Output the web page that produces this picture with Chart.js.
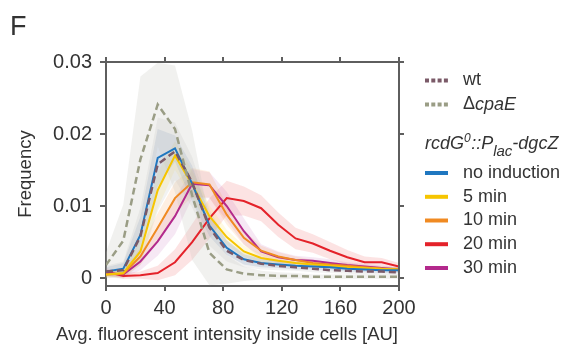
<!DOCTYPE html>
<html lang="en">
<head>
<meta charset="UTF-8">
<title>Frequency vs. fluorescent intensity</title>
<script src="https://cdn.jsdelivr.net/npm/chart.js"></script>
<style>
  html, body { margin: 0; padding: 0; background: #fff; }
  #chart { display: block; }
</style>
</head>
<body>
<canvas id="chart" width="570" height="351"></canvas>
<script>
// intensity bins (AU)
const intensity = [0, 11.8, 23.5, 35.3, 47.1, 58.8, 70.6, 82.4, 94.1, 105.9, 117.6, 129.4, 141.2, 152.9, 164.7, 176.5, 188.2, 200];

// mean frequency per bin
const wt          = [0.0009, 0.0011, 0.0058, 0.0158, 0.0176, 0.0133, 0.0070, 0.0038, 0.0025, 0.0020, 0.0017, 0.0015, 0.0013, 0.0011, 0.0010, 0.0009, 0.0009, 0.0008];
const cpaE        = [0.0018, 0.0052, 0.0165, 0.0241, 0.0207, 0.0115, 0.0035, 0.0012, 0.0006, 0.0004, 0.0003, 0.0003, 0.0002, 0.0002, 0.0002, 0.0002, 0.0002, 0.0002];
const noInduction = [0.0009, 0.0013, 0.0060, 0.0167, 0.0180, 0.0131, 0.0073, 0.0042, 0.0026, 0.0021, 0.0019, 0.0017, 0.0016, 0.0015, 0.0013, 0.0012, 0.0011, 0.0011];
const min5        = [0.0005, 0.0007, 0.0037, 0.0122, 0.0170, 0.0130, 0.0086, 0.0057, 0.0037, 0.0028, 0.0024, 0.0021, 0.0019, 0.0017, 0.0015, 0.0014, 0.0013, 0.0012];
const min10       = [0.0005, 0.0006, 0.0030, 0.0070, 0.0111, 0.0133, 0.0130, 0.0088, 0.0056, 0.0038, 0.0030, 0.0025, 0.0021, 0.0019, 0.0017, 0.0015, 0.0013, 0.0012];
const min20       = [0.0009, 0.0003, 0.0004, 0.0007, 0.0022, 0.0050, 0.0083, 0.0111, 0.0107, 0.0097, 0.0074, 0.0055, 0.0048, 0.0038, 0.0029, 0.0022, 0.0022, 0.0016];
const min30       = [0.0007, 0.0005, 0.0023, 0.0051, 0.0086, 0.0131, 0.0129, 0.0100, 0.0065, 0.0037, 0.0029, 0.0025, 0.0024, 0.0021, 0.0018, 0.0016, 0.0014, 0.0012];

// spread (shaded band = mean +/- sd)
const wtSd          = [0.0008, 0.0012, 0.0040, 0.0065, 0.0040, 0.0035, 0.0025, 0.0015, 0.0010, 0.0008, 0.0006, 0.0005, 0.0005, 0.0004, 0.0004, 0.0004, 0.0004, 0.0004];
const cpaESd        = [0.0018, 0.0050, 0.0115, 0.0058, 0.0088, 0.0090, 0.0045, 0.0020, 0.0010, 0.0006, 0.0005, 0.0004, 0.0003, 0.0003, 0.0003, 0.0003, 0.0003, 0.0003];
const noInductionSd = [0.0006, 0.0008, 0.0025, 0.0040, 0.0018, 0.0025, 0.0015, 0.0010, 0.0007, 0.0006, 0.0005, 0.0005, 0.0004, 0.0004, 0.0004, 0.0004, 0.0004, 0.0004];
const min5Sd        = [0.0004, 0.0005, 0.0015, 0.0025, 0.0020, 0.0020, 0.0015, 0.0010, 0.0008, 0.0006, 0.0005, 0.0004, 0.0004, 0.0004, 0.0003, 0.0003, 0.0003, 0.0003];
const min10Sd       = [0.0004, 0.0005, 0.0012, 0.0020, 0.0022, 0.0020, 0.0018, 0.0014, 0.0010, 0.0007, 0.0006, 0.0005, 0.0004, 0.0004, 0.0004, 0.0003, 0.0003, 0.0003];
const min20Sd       = [0.0005, 0.0004, 0.0005, 0.0010, 0.0018, 0.0025, 0.0028, 0.0024, 0.0020, 0.0018, 0.0017, 0.0015, 0.0013, 0.0012, 0.0010, 0.0008, 0.0006, 0.0005];
const min30Sd       = [0.0004, 0.0004, 0.0012, 0.0020, 0.0025, 0.0020, 0.0018, 0.0020, 0.0018, 0.0010, 0.0008, 0.0006, 0.0005, 0.0005, 0.0004, 0.0004, 0.0003, 0.0003];

const xTicks = [0, 40, 80, 120, 160, 200];
const yTicks = [0, 0.01, 0.02, 0.03];
const yTickLabels = ['0', '0.01', '0.02', '0.03'];

const xTitle = 'Avg. fluorescent intensity inside cells [AU]';
const inductionLabels = ['no induction', '5 min', '10 min', '20 min', '30 min'];

const FONT = "'Liberation Sans', Arial, sans-serif";
const TEXT = '#333333';
const FRAME = '#5e5e5e';

// series: mean, sd, line colour, band colour, dash
const series = [
  { name: 'ΔcpaE', mean: cpaE, sd: cpaESd, color: '#9a9d85', band: 'rgba(200,200,192,0.25)', dash: [7, 4] },
  { name: 'wt', mean: wt, sd: wtSd, color: '#7b5a68', band: 'rgba(165,165,165,0.15)', dash: [7, 4] },
  { name: 'no induction', mean: noInduction, sd: noInductionSd, color: '#1f77c0', band: 'rgba(80,120,175,0.17)' },
  { name: '5 min', mean: min5, sd: min5Sd, color: '#f6c500', band: 'rgba(255,225,90,0.18)' },
  { name: '10 min', mean: min10, sd: min10Sd, color: '#f08a22', band: 'rgba(245,150,60,0.15)' },
  { name: '30 min', mean: min30, sd: min30Sd, color: '#b3298c', band: 'rgba(190,90,175,0.14)' },
  { name: '20 min', mean: min20, sd: min20Sd, color: '#e4222a', band: 'rgba(235,70,70,0.15)' }
];

const pts = arr => arr.map((v, i) => ({ x: intensity[i], y: v }));

const datasets = [];
// shaded bands first
series.forEach(s => {
  datasets.push({
    data: pts(s.mean.map((v, i) => v - s.sd[i])),
    borderWidth: 0, pointRadius: 0, fill: false, order: 10
  });
  datasets.push({
    data: pts(s.mean.map((v, i) => v + s.sd[i])),
    borderWidth: 0, pointRadius: 0, backgroundColor: s.band,
    fill: '-1', order: 10
  });
});
// solid lines, then dashed on top
series.slice(2).forEach(s => {
  datasets.push({
    label: s.name, data: pts(s.mean), borderColor: s.color,
    borderWidth: 2, pointRadius: 0, tension: 0, fill: false, order: 2
  });
});
series.slice(0, 2).forEach(s => {
  datasets.push({
    label: s.name, data: pts(s.mean), borderColor: s.color,
    borderWidth: 2.5, borderDash: s.dash, pointRadius: 0, tension: 0, fill: false, order: 1
  });
});

const decorations = {
  id: 'decorations',
  afterDraw(chart) {
    const ctx = chart.ctx;
    const { left, right, top, bottom } = chart.chartArea;
    const xs = chart.scales.x, ys = chart.scales.y;

    // top and right frame with outward ticks
    ctx.save();
    ctx.strokeStyle = FRAME;
    ctx.lineWidth = 2;
    ctx.beginPath();
    ctx.moveTo(left - 1, top);
    ctx.lineTo(right, top);
    ctx.lineTo(right, bottom + 1);
    xTicks.forEach(v => {
      const px = Math.round(xs.getPixelForValue(v));
      ctx.moveTo(px, top);
      ctx.lineTo(px, top - 5);
    });
    yTicks.forEach(v => {
      const py = Math.round(ys.getPixelForValue(v));
      ctx.moveTo(right, py);
      ctx.lineTo(right + 5, py);
    });
    ctx.stroke();

    // panel letter
    ctx.fillStyle = TEXT;
    ctx.font = '27px ' + FONT;
    ctx.textBaseline = 'alphabetic';
    ctx.textAlign = 'left';
    ctx.fillText('F', 10, 35);

    // x axis title (right-aligned with the frame, wider than the plot)
    ctx.font = '18.5px ' + FONT;
    ctx.textAlign = 'right';
    ctx.textBaseline = 'middle';
    ctx.fillText(xTitle, right - 1, 335);
    ctx.textAlign = 'left';

    // legend
    const sx = 425, sw = 23, tx = 463;
    const dashedRows = [[series[1].color, 80.5], [series[0].color, 104.5]];
    dashedRows.forEach(([color, y]) => {
      ctx.strokeStyle = color;
      ctx.lineWidth = 4;
      ctx.setLineDash([4, 2.3]);
      ctx.beginPath();
      ctx.moveTo(sx, y);
      ctx.lineTo(sx + sw, y);
      ctx.stroke();
    });
    ctx.setLineDash([]);
    ctx.font = '18px ' + FONT;
    ctx.fillText('wt', tx, 80.5);
    ctx.fillText('Δ', tx, 104.5);
    const w = ctx.measureText('Δ').width;
    ctx.font = 'italic 18px ' + FONT;
    ctx.fillText('cpaE', tx + w, 104.5);

    // strain header: rcdG0::Plac-dgcZ
    ctx.textBaseline = 'alphabetic';
    let x = sx;
    const parts = [
      ['rcdG', 18, 149], ['0', 12, 142], ['::P', 18, 149], ['lac', 15, 156], ['-dgcZ', 18, 149]
    ];
    parts.forEach(([t, size, y]) => {
      ctx.font = 'italic ' + size + 'px ' + FONT;
      ctx.fillText(t, x, y);
      x += ctx.measureText(t).width + (t === '0' ? 0.5 : 0);
    });

    const rowY = [173, 196.8, 220.5, 244.2, 268];
    const rowColors = ['#1f77c0', '#f6c500', '#f08a22', '#e4222a', '#b3298c'];
    ctx.font = '18px ' + FONT;
    ctx.textBaseline = 'middle';
    inductionLabels.forEach((label, i) => {
      ctx.strokeStyle = rowColors[i];
      ctx.lineWidth = 4;
      ctx.beginPath();
      ctx.moveTo(sx, rowY[i]);
      ctx.lineTo(sx + sw, rowY[i]);
      ctx.stroke();
      ctx.fillText(label, tx, rowY[i]);
    });
    ctx.restore();
  }
};

new Chart(document.getElementById('chart'), {
  type: 'line',
  data: { datasets },
  plugins: [decorations],
  options: {
    responsive: false,
    animation: false,
    events: [],
    layout: { padding: { left: 0, top: 62, right: 171, bottom: 0 } },
    plugins: {
      legend: { display: false },
      tooltip: { enabled: false },
      filler: { drawTime: 'beforeDatasetsDraw' }
    },
    scales: {
      x: {
        type: 'linear',
        min: 0, max: 200,
        afterFit: s => { s.height = 65; },
        afterBuildTicks: s => { s.ticks = xTicks.map(v => ({ value: v })); },
        ticks: { color: TEXT, font: { family: FONT, size: 20 }, padding: 5, maxRotation: 0 },
        grid: { display: true, drawOnChartArea: false, drawTicks: true, tickLength: 5, color: FRAME, lineWidth: 2 },
        border: { display: true, color: FRAME, width: 2 },
        title: { display: false }
      },
      y: {
        type: 'linear',
        min: -0.0011, max: 0.03,
        afterFit: s => { s.width = 106; },
        afterBuildTicks: s => { s.ticks = yTicks.map(v => ({ value: v })); },
        ticks: {
          color: TEXT, font: { family: FONT, size: 20 }, padding: 8,
          callback: v => yTickLabels[yTicks.indexOf(v)]
        },
        grid: { display: true, drawOnChartArea: false, drawTicks: true, tickLength: 6, color: FRAME, lineWidth: 2 },
        border: { display: true, color: FRAME, width: 2 },
        title: {
          display: true, text: 'Frequency',
          color: TEXT, font: { family: FONT, size: 18.5 }, padding: { top: 15, bottom: 0 }
        }
      }
    }
  }
});
</script>
</body>
</html>
